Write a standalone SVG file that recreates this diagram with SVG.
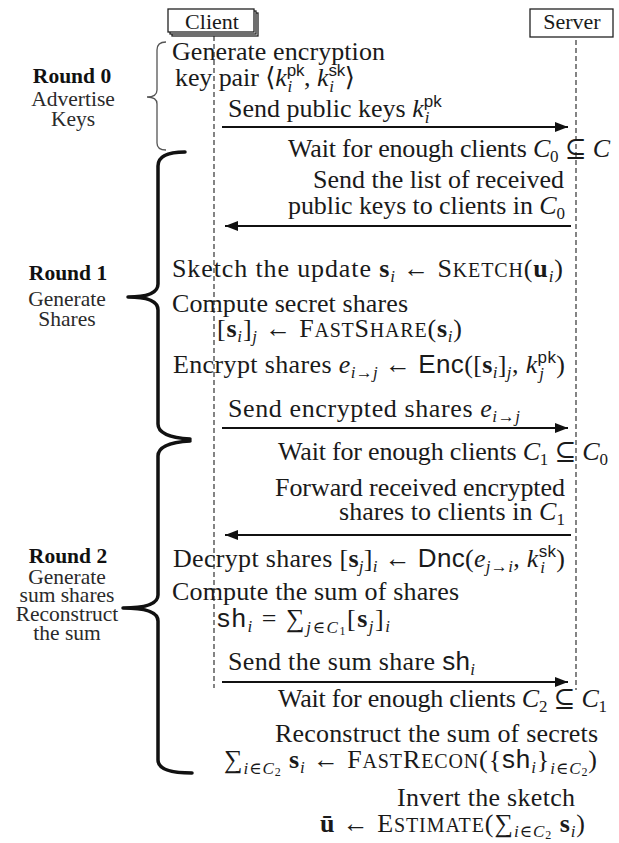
<svg xmlns="http://www.w3.org/2000/svg" width="619" height="843" viewBox="0 0 619 843">
<defs>
<style>
.t{font-family:"Liberation Serif","DejaVu Serif",serif;font-size:26px;fill:#1a1a1a}
.it{font-style:italic}
.b{font-weight:bold}
.sf{font-family:"Liberation Sans","DejaVu Sans",sans-serif}
.sm{font-size:17px}
.xs{font-size:12px}
.sc{font-size:20px}
.lbl{font-family:"Liberation Serif","DejaVu Serif",serif;font-size:21.5px;fill:#2a2a2a;text-anchor:middle}
.rb{font-weight:bold;fill:#111}
.box{fill:#fff;stroke:#222;stroke-width:1.3}
.life{stroke:#333;stroke-width:1.2;stroke-dasharray:5 3;fill:none}
.msg{stroke:#111;stroke-width:1.8;fill:none}
.brace{fill:none;stroke:#111;stroke-width:3.5;stroke-linecap:round;stroke-linejoin:round}
.brace0{fill:none;stroke:#555;stroke-width:1.3}
</style>
<marker id="ah" viewBox="0 0 13 10" refX="13" refY="5" markerWidth="13" markerHeight="10" markerUnits="userSpaceOnUse" orient="auto">
<path d="M0,0 L13,5 L0,10 z" fill="#111"/>
</marker>
</defs>
<rect width="619" height="843" fill="#fff"/>

<g id="connectors">
<line class="life" x1="214" y1="36" x2="214" y2="688"/>
<line class="life" x1="576" y1="40" x2="576" y2="690"/>
<line class="msg" x1="222" y1="127" x2="568" y2="127" marker-end="url(#ah)"/>
<line class="msg" x1="571" y1="226" x2="225" y2="226" marker-end="url(#ah)"/>
<line class="msg" x1="222" y1="428" x2="568" y2="428" marker-end="url(#ah)"/>
<line class="msg" x1="571" y1="535" x2="225" y2="535" marker-end="url(#ah)"/>
<line class="msg" x1="222" y1="682" x2="568" y2="682" marker-end="url(#ah)"/>
</g>

<g id="client">
<rect class="box" x="172" y="13" width="86" height="23"/>
<rect class="box" x="170" y="11" width="86" height="23"/>
<rect class="box" x="168" y="9" width="86" height="23"/>
<text class="t" x="212" y="29" text-anchor="middle" style="font-size:22px">Client</text>
</g>
<g id="server">
<rect class="box" x="530" y="9" width="83" height="28"/>
<text class="t" x="572" y="29" text-anchor="middle" style="font-size:22px">Server</text>
</g>

<g id="round0">
<path class="brace0" d="M166,42 Q157,42 157,50 L157,90 Q157,97 147,97 Q157,97 157,104 L157,143 Q157,150 166,150"/>
<text class="lbl rb" x="72" y="83">Round 0</text>
<text class="lbl" x="73" y="106">Advertise</text>
<text class="lbl" x="73" y="126">Keys</text>
</g>
<g id="round1">
<path class="brace" d="M185,152 Q158,152 158,166 L158,284 Q158,297 128,297 Q158,297 158,310 L158,424 Q158,437 190,439"/>
<text class="lbl rb" x="68" y="280">Round 1</text>
<text class="lbl" x="67" y="306">Generate</text>
<text class="lbl" x="67" y="326">Shares</text>
</g>
<g id="round2">
<path class="brace" d="M190,441 Q158,443 158,456 L158,595 Q158,608 123,608 Q158,608 158,621 L158,760 Q158,773 192,773"/>
<text class="lbl rb" x="68" y="563">Round 2</text>
<text class="lbl" x="67" y="584">Generate</text>
<text class="lbl" x="67" y="602">sum shares</text>
<text class="lbl" x="67" y="621">Reconstruct</text>
<text class="lbl" x="67" y="640">the sum</text>
</g>

<g id="gen-keys">
<text class="t" x="172" y="60" textLength="213">Generate encryption</text>
<text class="t" x="175" y="86" textLength="180">key pair ⟨<tspan class="it">k</tspan><tspan class="sf sm" dy="-10">pk</tspan><tspan class="it sm" dx="-17" dy="16">i</tspan><tspan dx="12" dy="-6">, </tspan><tspan class="it">k</tspan><tspan class="sf sm" dy="-10">sk</tspan><tspan class="it sm" dx="-16" dy="16">i</tspan><tspan dx="11" dy="-6">⟩</tspan></text>
</g>
<g id="msg-send-pk">
<text class="t" x="228" y="117">Send public keys <tspan class="it">k</tspan><tspan class="sf sm" dy="-10">pk</tspan><tspan class="it sm" dx="-17" dy="16">i</tspan></text>
</g>
<g id="wait-c0">
<text class="t" x="610" y="157" text-anchor="end" textLength="322">Wait for enough clients <tspan class="it">C</tspan><tspan class="sm" dy="5">0</tspan><tspan dy="-5"> ⊆ </tspan><tspan class="it">C</tspan></text>
</g>
<g id="msg-list">
<text class="t" x="564" y="188" text-anchor="end" textLength="251">Send the list of received</text>
<text class="t" x="565" y="214" text-anchor="end" textLength="277">public keys to clients in <tspan class="it">C</tspan><tspan class="sm" dy="5">0</tspan></text>
</g>
<g id="sketch">
<text class="t" x="172" y="277" textLength="391">Sketch the update <tspan class="b">s</tspan><tspan class="it sm" dy="5">i</tspan><tspan dy="-5"> ← S</tspan><tspan class="sc">KETCH</tspan>(<tspan class="b">u</tspan><tspan class="it sm" dy="5">i</tspan><tspan dy="-5">)</tspan></text>
</g>
<g id="shares">
<text class="t" x="172" y="312" textLength="236">Compute secret shares</text>
<text class="t" x="217" y="337" textLength="245">[<tspan class="b">s</tspan><tspan class="it sm" dy="5">i</tspan><tspan dy="-5">]</tspan><tspan class="it sm" dy="5">j</tspan><tspan dy="-5"> ← F</tspan><tspan class="sc">AST</tspan>S<tspan class="sc">HARE</tspan>(<tspan class="b">s</tspan><tspan class="it sm" dy="5">i</tspan><tspan dy="-5">)</tspan></text>
</g>
<g id="encrypt">
<text class="t" x="173" y="373" textLength="392">Encrypt shares <tspan class="it">e</tspan><tspan class="it sm" dy="5">i</tspan><tspan class="sm">→</tspan><tspan class="it sm">j</tspan><tspan dy="-5"> ← </tspan><tspan class="sf">Enc</tspan>([<tspan class="b">s</tspan><tspan class="it sm" dy="5">i</tspan><tspan dy="-5">]</tspan><tspan class="it sm" dy="5">j</tspan><tspan dy="-5">, </tspan><tspan class="it">k</tspan><tspan class="sf sm" dy="-10">pk</tspan><tspan class="it sm" dx="-17" dy="16">j</tspan><tspan dx="12" dy="-6">)</tspan></text>
</g>
<g id="msg-enc">
<text class="t" x="228" y="417" textLength="292">Send encrypted shares <tspan class="it">e</tspan><tspan class="it sm" dy="5">i</tspan><tspan class="sm">→</tspan><tspan class="it sm">j</tspan></text>
</g>
<g id="wait-c1">
<text class="t" x="608" y="460" text-anchor="end" textLength="330">Wait for enough clients <tspan class="it">C</tspan><tspan class="sm" dy="5">1</tspan><tspan dy="-5"> ⊆ </tspan><tspan class="it">C</tspan><tspan class="sm" dy="5">0</tspan></text>
</g>
<g id="msg-forward">
<text class="t" x="565" y="496" text-anchor="end" textLength="290">Forward received encrypted</text>
<text class="t" x="565" y="520" text-anchor="end" textLength="226">shares to clients in <tspan class="it">C</tspan><tspan class="sm" dy="5">1</tspan></text>
</g>
<g id="decrypt">
<text class="t" x="173" y="567" textLength="392">Decrypt shares [<tspan class="b">s</tspan><tspan class="it sm" dy="5">j</tspan><tspan dy="-5">]</tspan><tspan class="it sm" dy="5">i</tspan><tspan dy="-5"> ← </tspan><tspan class="sf">Dnc</tspan>(<tspan class="it">e</tspan><tspan class="it sm" dy="5">j</tspan><tspan class="sm">→</tspan><tspan class="it sm">i</tspan><tspan dy="-5">, </tspan><tspan class="it">k</tspan><tspan class="sf sm" dy="-10">sk</tspan><tspan class="it sm" dx="-16" dy="16">i</tspan><tspan dx="11" dy="-6">)</tspan></text>
</g>
<g id="sum-shares">
<text class="t" x="172" y="600" textLength="287">Compute the sum of shares</text>
<text class="t" x="217" y="627" textLength="173"><tspan class="sf">sh</tspan><tspan class="it sm" dy="5">i</tspan><tspan dy="-5"> = ∑</tspan><tspan class="it sm" dy="6">j</tspan><tspan class="sm">∈</tspan><tspan class="it sm">C</tspan><tspan class="xs" dy="2">1</tspan><tspan dy="-8">[</tspan><tspan class="b">s</tspan><tspan class="it sm" dy="5">j</tspan><tspan dy="-5">]</tspan><tspan class="it sm" dy="5">i</tspan></text>
</g>
<g id="msg-sum">
<text class="t" x="228" y="670" textLength="247">Send the sum share <tspan class="sf">sh</tspan><tspan class="it sm" dy="5">i</tspan></text>
</g>
<g id="wait-c2">
<text class="t" x="607" y="707" text-anchor="end" textLength="329">Wait for enough clients <tspan class="it">C</tspan><tspan class="sm" dy="5">2</tspan><tspan dy="-5"> ⊆ </tspan><tspan class="it">C</tspan><tspan class="sm" dy="5">1</tspan></text>
</g>
<g id="reconstruct">
<text class="t" x="598" y="742" text-anchor="end" textLength="323">Reconstruct the sum of secrets</text>
<text class="t" x="597" y="768" text-anchor="end" textLength="373">∑<tspan class="it sm" dy="6">i</tspan><tspan class="sm">∈</tspan><tspan class="it sm">C</tspan><tspan class="xs" dy="2">2</tspan><tspan dy="-8"> </tspan><tspan class="b">s</tspan><tspan class="it sm" dy="5">i</tspan><tspan dy="-5"> ← F</tspan><tspan class="sc">AST</tspan>R<tspan class="sc">ECON</tspan>({<tspan class="sf">sh</tspan><tspan class="it sm" dy="5">i</tspan><tspan dy="-5">}</tspan><tspan class="it sm" dy="6">i</tspan><tspan class="sm">∈</tspan><tspan class="it sm">C</tspan><tspan class="xs" dy="2">2</tspan><tspan dy="-8">)</tspan></text>
</g>
<g id="invert">
<text class="t" x="575" y="806" text-anchor="end" textLength="178">Invert the sketch</text>
<text class="t" x="585" y="832" text-anchor="end" textLength="265"><tspan class="b">ū</tspan> ← E<tspan class="sc">STIMATE</tspan>(∑<tspan class="it sm" dy="5">i</tspan><tspan class="sm">∈</tspan><tspan class="it sm">C</tspan><tspan class="xs" dy="2">2</tspan><tspan dy="-7"> </tspan><tspan class="b">s</tspan><tspan class="it sm" dy="5">i</tspan><tspan dy="-5">)</tspan></text>
</g>
</svg>
